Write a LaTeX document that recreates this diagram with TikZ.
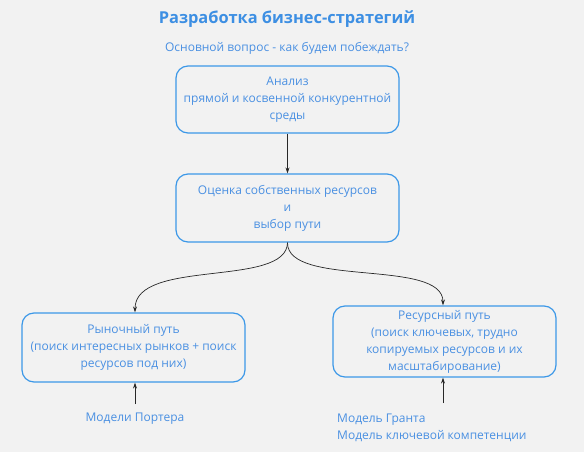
\documentclass[tikz,border=0pt]{standalone}
\usepackage{fontspec}
\setmainfont{Open Sans}
\usetikzlibrary{arrows.meta}
\definecolor{bg}{RGB}{242,242,242}
\definecolor{txt}{RGB}{74,144,226}
\definecolor{ttl}{RGB}{61,143,227}
\definecolor{brd}{RGB}{60,152,232}
\definecolor{ln}{RGB}{40,40,40}
\begin{document}
\begin{tikzpicture}[x=1pt,y=-1pt,
  box/.style={draw=brd,line width=1.2pt,rounded corners=12pt,minimum width=223pt,align=center,text=txt,font=\fontsize{12}{17}\selectfont,inner sep=0pt},
  lbl/.style={text=txt,font=\fontsize{12}{17}\selectfont,inner sep=0pt},
  conn/.style={draw=ln,line width=0.7pt,-{Stealth[length=6pt,width=4pt]}}]
\fill[bg] (0,0) rectangle (584,452);
\useasboundingbox (0,0) rectangle (584,452);
\node[text=ttl,font=\fontsize{16.4}{20}\selectfont\bfseries,inner sep=0pt] (title) at (287,19) {Разработка бизнес-стратегий};
\node[lbl] (sub) at (287,48) {Основной вопрос - как будем побеждать?};
\node[box,minimum height=67pt] (a) at (287.5,99.5) {Анализ\\прямой и косвенной конкурентной\\среды};
\node[box,minimum height=68pt] (b) at (287.5,208) {Оценка собственных ресурсов\\и\\выбор пути};
\node[box,minimum height=69pt] (c) at (133.5,347.5) {Рыночный путь\\(поиск интересных рынков + поиск\\ресурсов под них)};
\node[box,minimum height=71pt] (d) at (444.5,341.5) {Ресурсный путь\\(поиск ключевых, трудно\\копируемых ресурсов и их\\масштабирование)};
\node[lbl] (e) at (135,419) {Модели Портера};
\node[lbl,anchor=west,align=left] (f) at (337,427.5) {Модель Гранта\\Модель ключевой компетенции};
\coordinate (e1) at (135,404);
\coordinate (f1) at (443,403);
\draw[conn] (a.south) -- (b.south |- b.north);
\draw[conn] (b.south) .. controls (287,288) and (135,258) .. (c.north -| 135,0);
\draw[conn] (b.south) .. controls (287,288) and (443,258) .. (d.north -| 443,0);
\draw[conn] (e1) -- (c.south -| e1);
\draw[conn] (f1) -- (d.south -| f1);
\end{tikzpicture}
\end{document}
